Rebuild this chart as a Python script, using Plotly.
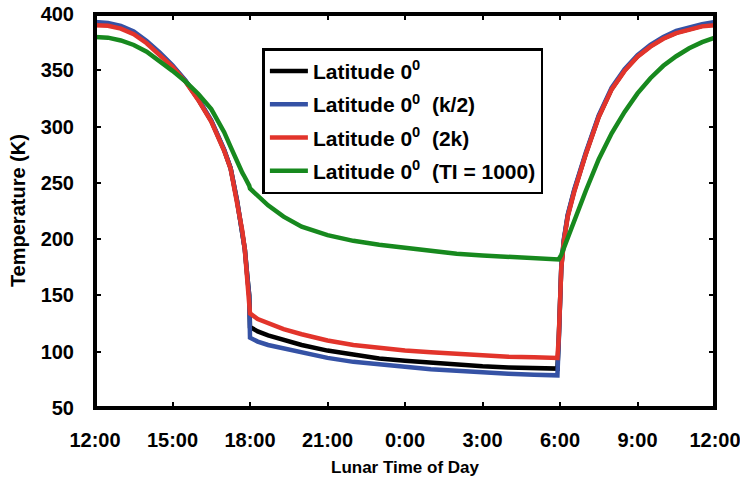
import plotly.graph_objects as go

# Hours since local noon (0 = 12:00, 24 = next 12:00)
hours = [0, 0.5, 1, 1.5, 2, 2.5, 3, 3.5, 4, 4.5, 5, 5.25, 5.5, 5.7, 5.8, 5.9, 5.97,
         6.0, 6.3, 6.7, 7.3, 8, 9, 10, 11, 12, 13, 14, 15, 16, 17, 17.9,
         17.95, 18.05, 18.15, 18.3, 18.55, 19, 19.5, 20, 20.5, 21, 21.5, 22, 22.5, 23, 23.5, 24]

temp_lat0 = [391, 390.5, 388, 383, 375, 365, 353.5, 340.5, 324, 305, 279, 263, 234, 208, 191, 166, 150,
             122, 118, 114.5, 110.5, 106, 101, 97, 94, 92, 90, 88.5, 87, 86, 85.5, 85,
             110, 175, 199, 221, 243, 276, 309, 333.5, 350, 362.5, 371.5, 378.5, 383.5, 387, 389.5, 391]

temp_half_k = [393, 392, 389.5, 384.5, 376, 366, 354.5, 341, 324.5, 305.5, 279.5, 263, 234, 208, 191, 166, 150,
               112.5, 109, 106, 103, 99, 94.5, 91, 88.5, 86.5, 84.5, 83, 81.5, 80.5, 79.5, 79,
               108, 176, 200, 222, 244, 277, 310, 334.5, 351, 363.5, 372.5, 379.5, 385, 388.5, 391, 393]

temp_2k = [390, 389.5, 387, 382, 374, 364, 353, 340, 323.5, 304.5, 278.5, 262.5, 233.5, 207.5, 190.5, 165.5, 150,
           134, 129, 125, 120, 115.5, 110, 106, 103, 101, 99.5, 98, 96.5, 95.5, 95, 94.5,
           112, 174, 198, 220, 242, 275.5, 308.5, 333, 349.5, 362, 371, 378, 383, 386.5, 389, 390]

temp_ti1000 = [379.5, 379, 376.5, 372.5, 366.5, 358.5, 349.5, 340, 329, 315.5, 295, 282, 268, 259, 255, 251, 247.5,
               245, 238, 230, 220, 211, 203.5, 198.5, 195, 192, 189, 187, 185.5, 184, 183, 182,
               182, 186, 192, 202, 217, 243, 271, 294, 313, 329.5, 343, 354, 362.5, 369.5, 375, 379]

tick_hours = [0, 3, 6, 9, 12, 15, 18, 21, 24]
tick_labels = ["12:00", "15:00", "18:00", "21:00", "0:00", "3:00", "6:00", "9:00", "12:00"]

series = [
    ("Latitude 0<sup>0</sup>", temp_lat0, "#000000"),
    ("Latitude 0<sup>0</sup>\u00a0 (k/2)", temp_half_k, "#3552a5"),
    ("Latitude 0<sup>0</sup>\u00a0 (2k)", temp_2k, "#e2342b"),
    ("Latitude 0<sup>0</sup>\u00a0 (TI = 1000)", temp_ti1000, "#17891e"),
]

font_family = "Liberation Sans, Arial, sans-serif"

fig = go.Figure()
for i, (name, temps, color) in enumerate(series):
    fig.add_trace(go.Scatter(
        x=hours, y=temps, mode="lines", name=name,
        line=dict(color=color, width=4.5),
        legendgroup=f"g{i}",
    ))

fig.update_layout(
    template="none",
    width=740, height=493,
    margin=dict(l=95, r=25, t=14, b=85, autoexpand=False),
    paper_bgcolor="white", plot_bgcolor="white",
    font=dict(family=font_family, color="black"),
    showlegend=True,
    legend=dict(
        x=0.27, y=0.913, xanchor="left", yanchor="top",
        bgcolor="white", bordercolor="black", borderwidth=2.5,
        font=dict(size=21, family=font_family, color="black", weight="bold"),
        tracegroupgap=3, itemwidth=38,
    ),
    xaxis=dict(
        range=[0, 24], tickmode="array", tickvals=tick_hours, ticktext=tick_labels,
        ticks="inside", ticklen=6, tickwidth=2, tickcolor="black", mirror="ticks",
        showline=False, showgrid=False, zeroline=False, automargin=False,
        tickfont=dict(size=20, family=font_family, color="black", weight="bold"),
        ticklabelstandoff=18, ticklabeloverflow="allow",
    ),
    yaxis=dict(
        range=[50, 400], tickmode="linear", tick0=50, dtick=50,
        ticks="inside", ticklen=6, tickwidth=2, tickcolor="black", mirror="ticks",
        showline=False, showgrid=False, zeroline=False, automargin=False,
        tickfont=dict(size=20, family=font_family, color="black", weight="bold"),
        ticklabelstandoff=20, ticklabeloverflow="allow",
    ),
    shapes=[dict(type="rect", xref="paper", yref="paper", x0=0, y0=0, x1=1, y1=1,
                 line=dict(color="black", width=4), layer="above")],
    annotations=[
        dict(text="Lunar Time of Day", xref="paper", yref="paper", x=0.5, y=-0.15,
             xanchor="center", yanchor="middle", showarrow=False,
             font=dict(size=17, family=font_family, color="black", weight="bold")),
        dict(text="Temperature (K)", xref="paper", yref="paper", x=-0.124, y=0.5,
             xanchor="center", yanchor="middle", showarrow=False, textangle=-90,
             font=dict(size=20, family=font_family, color="black", weight="bold")),
    ],
)

fig.write_html(
    "out.html",
    config={"displayModeBar": False},
    post_script="document.body.style.margin='0';document.body.style.overflow='hidden';",
)
